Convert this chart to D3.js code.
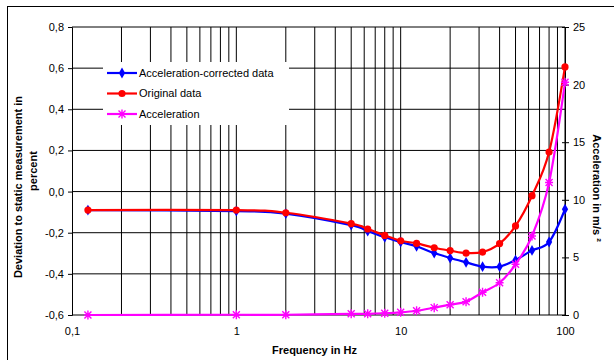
<!DOCTYPE html>
<meta charset="utf-8">
<style>
body { margin: 0; background: #fff; }
svg { font-family: "Liberation Sans", Arial, sans-serif; }
.axis text { font-size: 11px; fill: #000; }
.axis path, .axis line { stroke: #000; fill: none; }
.title { font-size: 11px; font-weight: bold; }
</style>
<body>
<script src="https://cdnjs.cloudflare.com/ajax/libs/d3/7.8.5/d3.min.js"></script>
<script>
// values
var freq = [0.125, 1, 2, 5, 6.3, 8, 10, 12.5, 16, 20, 25, 31.5, 40, 50, 63, 80, 100];
var corrected = [-0.09, -0.095, -0.107, -0.163, -0.192, -0.222, -0.245, -0.266, -0.299, -0.323, -0.344, -0.365, -0.365, -0.333, -0.286, -0.245, -0.086];
var original = [-0.09, -0.09, -0.103, -0.156, -0.182, -0.213, -0.239, -0.252, -0.273, -0.287, -0.299, -0.294, -0.253, -0.167, -0.02, 0.192, 0.606];
var accel = [0, 0.02, 0.02, 0.1, 0.1, 0.15, 0.23, 0.37, 0.64, 0.9, 1.16, 1.97, 2.8, 4.4, 6.86, 11.5, 20.2];
var leftTicks = [-0.6, -0.4, -0.2, 0, 0.2, 0.4, 0.6, 0.8];
var rightTicks = [0, 5, 10, 15, 20, 25];
var xTicks = [0.1, 1, 10, 100];
var seriesNames = ["Acceleration-corrected data", "Original data", "Acceleration"];
var seriesColors = ["#0000ff", "#ff0000", "#ff00ff"];

var margin = {top: 27, right: 49, bottom: 45, left: 72},
    width = 614 - margin.left - margin.right,
    height = 360 - margin.top - margin.bottom;

var svg = d3.select("body").append("svg")
    .attr("width", 614)
    .attr("height", 360);

// outer chart border
svg.append("rect")
    .attr("x", 7.5).attr("y", 6.5)
    .attr("width", 620).attr("height", 360)
    .style("fill", "#fff").style("stroke", "#000");

var g = svg.append("g")
    .attr("transform", "translate(" + margin.left + "," + margin.top + ")");

var x = d3.scaleLog().domain([0.1, 100]).range([0, width]);
var y = d3.scaleLinear().domain([-0.6, 0.8]).range([height, 0]);
var y2 = d3.scaleLinear().domain([0, 25]).range([height, 0]);

var fmt = function(d) { return d3.format(".1f")(d).replace("−", "-").replace(".", ","); };

// grid
var minor = [];
[0.1, 1, 10].forEach(function(dec) {
  for (var k = 2; k <= 9; k++) minor.push(dec * k);
});
minor = minor.concat([1, 10, 100]);

g.selectAll(".vgrid")
    .data(minor)
  .enter().append("line")
    .attr("class", "vgrid")
    .attr("x1", function(d) { return x(d); })
    .attr("x2", function(d) { return x(d); })
    .attr("y1", 0).attr("y2", height)
    .style("stroke", "#000").style("stroke-width", 1);

g.selectAll(".hgrid")
    .data(leftTicks.slice(1))
  .enter().append("line")
    .attr("class", "hgrid")
    .attr("x1", 0).attr("x2", width)
    .attr("y1", function(d) { return y(d); })
    .attr("y2", function(d) { return y(d); })
    .style("stroke", "#000").style("stroke-width", 1);

// axes
g.append("g")
    .attr("class", "axis")
    .call(d3.axisLeft(y).tickValues(leftTicks).tickFormat(fmt).tickSize(4).tickPadding(4));

g.append("g")
    .attr("class", "axis")
    .attr("transform", "translate(" + width + ",0)")
    .call(d3.axisRight(y2).tickValues(rightTicks).tickSize(4).tickPadding(4))
    .call(function(a) {
      a.selectAll(".tick line").attr("x1", -3);
    });

var xa = g.append("g")
    .attr("class", "axis")
    .attr("transform", "translate(0," + height + ")")
    .call(d3.axisBottom(x).tickValues(xTicks).tickSize(0).tickPadding(12)
      .tickFormat(function(d) { return d < 1 ? "0,1" : d; }));
xa.select(".domain").remove();

g.append("line")
    .attr("x1", 0).attr("x2", width)
    .attr("y1", height).attr("y2", height)
    .style("stroke", "#000");

// titles
svg.append("text")
    .attr("class", "title")
    .attr("x", margin.left + width / 2 - 4)
    .attr("y", 354)
    .attr("text-anchor", "middle")
    .text("Frequency in Hz");

svg.append("text")
    .attr("class", "title")
    .attr("transform", "translate(22,187) rotate(-90)")
    .attr("text-anchor", "middle")
    .text("Deviation to static measurement in");

svg.append("text")
    .attr("class", "title")
    .attr("transform", "translate(37,171) rotate(-90)")
    .attr("text-anchor", "middle")
    .text("percent");

svg.append("text")
    .attr("class", "title")
    .attr("transform", "translate(593,188) rotate(90)")
    .attr("text-anchor", "middle")
    .text("Acceleration in m/s \u00b2");

// series
var line = d3.line()
    .x(function(d) { return x(d[0]); })
    .y(function(d) { return d[1]; })
    .curve(d3.curveCatmullRom.alpha(0));

var series = [
  freq.map(function(f, i) { return [f, y(corrected[i])]; }),
  freq.map(function(f, i) { return [f, y(original[i])]; }),
  freq.map(function(f, i) { return [f, y2(accel[i])]; })
];

var diamond = d3.symbol().type(d3.symbolDiamond).size(34);
var asterisk = "M-4,0L4,0M0,-4.5L0,4.5M-3.5,-3.5L3.5,3.5M-3.5,3.5L3.5,-3.5";

function marker(sel, i) {
  if (i == 0) {
    sel.append("path").attr("d", diamond).style("fill", seriesColors[0]);
  } else if (i == 1) {
    sel.append("circle").attr("r", 3.6).style("fill", seriesColors[1]);
  } else {
    sel.append("path").attr("d", asterisk)
        .style("fill", "none").style("stroke", seriesColors[2]).style("stroke-width", 1.4);
  }
}

// legend box
var legend = g.append("g").attr("transform", "translate(31,35)");
legend.append("rect")
    .attr("width", 186).attr("height", 63)
    .style("fill", "#fff");

[0, 1, 2].forEach(function(i) {
  g.append("path")
      .datum(series[i])
      .attr("d", line)
      .style("fill", "none")
      .style("stroke", seriesColors[i])
      .style("stroke-width", 2.2);
  series[i].forEach(function(p) {
    var m = g.append("g").attr("transform", "translate(" + x(p[0]) + "," + p[1] + ")");
    marker(m, i);
  });
});

seriesNames.forEach(function(name, i) {
  var row = legend.append("g")
      .attr("transform", "translate(0," + (11 + i * 20.5) + ")");
  row.append("line")
      .attr("x1", 4).attr("x2", 34)
      .style("stroke", seriesColors[i]).style("stroke-width", 2.2);
  var m = row.append("g").attr("transform", "translate(19,0)");
  marker(m, i);
  row.append("text")
      .attr("x", 36)
      .attr("dy", "0.35em")
      .style("font-size", "11px")
      .text(name);
});
</script>
